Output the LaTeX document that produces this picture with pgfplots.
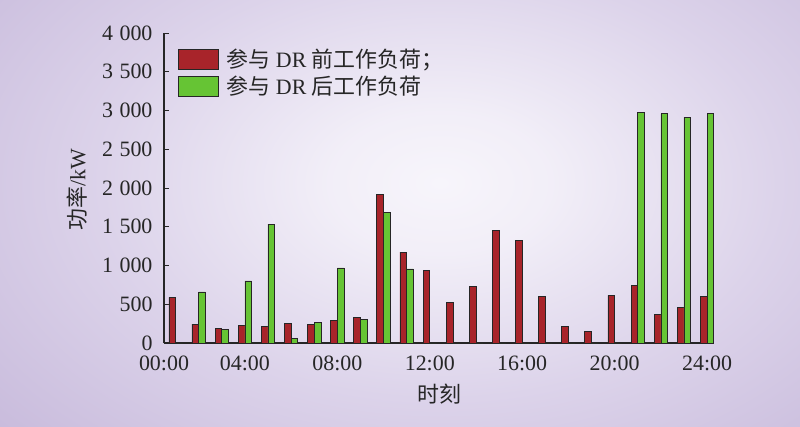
\documentclass[border=0pt]{standalone}
\usepackage{fontspec}
\setmainfont{Liberation Serif}
\newfontfamily\cjk{Noto Sans CJK SC}
\usepackage{pgfplots}
\pgfplotsset{compat=1.18}
\definecolor{bgin}{RGB}{247,245,251}
\definecolor{bgmid}{RGB}{220,211,234}
\definecolor{bgout}{RGB}{192,177,214}
\definecolor{barred}{RGB}{168,36,42}
\definecolor{bargreen}{RGB}{102,196,52}
\pgfdeclareradialshading{bgshade}{\pgfpoint{0bp}{0bp}}{color(0bp)=(bgin); color(6bp)=(bgin!80!bgmid); color(18bp)=(bgmid); color(37bp)=(bgout); color(80bp)=(bgout)}
\begin{document}
\begin{tikzpicture}
\begin{scope}
\clip (-164bp,-84bp) rectangle (636bp,343bp);
\shade[shading=bgshade] (276bp-470bp,160bp-300bp) rectangle (276bp+470bp,160bp+300bp);
\end{scope}
\begin{axis}[
  scale only axis,
  width=550bp, height=310bp,
  xmin=0.5, xmax=24.3,
  ymin=0, ymax=4000,
  axis x line*=bottom,
  axis y line*=left,
  axis line style={line width=1.2pt, draw=black!85},
  xtick={0.5,4,8,12,16,20,24},
  xticklabels={00:00,04:00,08:00,12:00,16:00,20:00,24:00},
  ytick={0,500,...,4000},
  xtick style={draw=none},
  ytick style={line width=1pt, black!85},
  major tick length=5bp,
  tick align=inside,
  /pgf/number format/assume math mode=true,
  /pgf/number format/1000 sep={\hspace{0.3em}},
  tick label style={font=\fontsize{22}{26}\selectfont, text=black!85},
  yticklabel style={xshift=-8bp},
  xticklabel style={yshift=-9bp},
  every axis y label/.style={at={(axis description cs:-0.158,0.494)}, rotate=90, anchor=center, font=\fontsize{22}{26}\selectfont, text=black!85},
  every axis x label/.style={at={(axis description cs:0.5,-0.164)}, anchor=center, font=\fontsize{22}{26}\selectfont, text=black!85},
  ylabel={{\cjk 功率}/kW},
  xlabel={{\cjk 时刻}},
  legend style={draw=none, fill=none, at={(0.025,0.955)}, anchor=north west, font=\fontsize{22}{26}\selectfont, text=black!85, row sep=3bp, inner xsep=0pt, inner ysep=0pt, nodes={inner xsep=8bp}},
  legend cell align=left,
  legend image code/.code={\draw[#1] (0bp,-10bp) rectangle (40bp,10bp);},
]
\addplot[ybar, bar width=0.29, bar shift=-0.145, fill=barred, draw=black!85, line width=0.7pt] coordinates {
(1,590) (2,244) (3,184) (4,231) (5,218) (6,248) (7,244) (8,291) (9,329) (10,1912) (11,1172) (12,932)
(13,523) (14,728) (15,1453) (16,1324) (17,596) (18,214) (19,154) (20,613) (21,746) (22,364) (23,458) (24,596)};
\addplot[ybar, bar width=0.29, bar shift=0.145, fill=bargreen, draw=black!85, line width=0.7pt] coordinates {
(1,0) (2,660) (3,171) (4,801) (5,1533) (6,60) (7,270) (8,968) (9,305) (10,1685) (11,955) (12,0)
(13,0) (14,0) (15,0) (16,0) (17,0) (18,0) (19,0) (20,0) (21,2980) (22,2958) (23,2912) (24,2958)};
\legend{{\cjk 参与} DR {\cjk 前工作负荷；},{\cjk 参与} DR {\cjk 后工作负荷}}
\end{axis}
\pgfresetboundingbox
\path[use as bounding box] (-164bp,-84bp) rectangle (636bp,343bp);
\end{tikzpicture}
\end{document}
